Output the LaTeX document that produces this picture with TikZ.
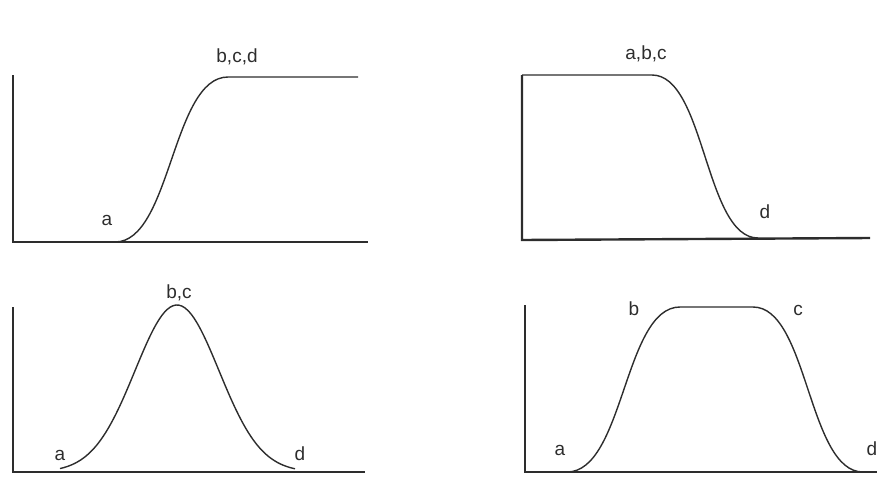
\documentclass[tikz,border=0pt]{standalone}
\usepackage{fontspec}
\setmainfont{Liberation Sans}
\usepackage{tikz}
\definecolor{InkGray}{RGB}{45, 45, 45}

\begin{document}
\begin{tikzpicture}[x=1pt, y=-1pt,
    axisline/.style={draw=InkGray, line width=2.4pt, line join=miter},
    curveline/.style={draw=InkGray, line width=1.4pt},
    ptlabel/.style={font=\fontsize{19}{21}\selectfont, text=InkGray, inner sep=0pt, anchor=base}]
                \useasboundingbox (0, 0) rectangle (889, 485);

                % Top left: rise a -> b,c,d
                \coordinate (o1) at (13, 242);
                \draw[axisline] (13, 75) -- (o1) -- (368, 242);
                \coordinate (a1) at (115, 242);
                \coordinate (b1) at (228, 77);
                \draw[curveline] (a1) .. controls (171, 242) and (172, 77) .. (b1) -- (358, 77);
                \node[ptlabel] (la1) at (107, 225) {a};
                \node[ptlabel] (lb1) at (237, 62) {b,c,d};

                % Top right: fall a,b,c -> d
                \coordinate (o2) at (522, 240);
                \coordinate (c2) at (652, 75);
                \coordinate (d2) at (758, 238);
                \draw[axisline] (522, 75) -- (o2) -- (870, 238);
                \draw[curveline] (522, 75) -- (c2) .. controls (705, 75) and (705, 238) .. (d2);
                \node[ptlabel] (la2) at (646, 59) {a,b,c};
                \node[ptlabel] (ld2) at (765, 218) {d};

                % Bottom left: bell a -> b,c -> d
                \coordinate (o3) at (13, 472);
                \draw[axisline] (13, 307) -- (o3) -- (365, 472);
                \draw[curveline] plot[domain=60:295, samples=80, smooth] (\x, {472-167*exp(-((\x-177)/42)^2/2)});
                \node[ptlabel] (la3) at (60, 460) {a};
                \node[ptlabel] (lb3) at (179, 298) {b,c};
                \node[ptlabel] (ld3) at (300, 460) {d};

                % Bottom right: plateau a -> b -- c -> d
                \coordinate (o4) at (525, 472);
                \coordinate (a4) at (567, 472);
                \coordinate (b4) at (680, 307);
                \coordinate (c4) at (753, 307);
                \coordinate (d4) at (863, 472);
                \draw[axisline] (525, 305) -- (o4) -- (877, 472);
                \draw[curveline] (a4) .. controls (624, 472) and (624, 307) .. (b4) -- (c4)
                    .. controls (808, 307) and (808, 472) .. (d4);
                \node[ptlabel] (la4) at (560, 455) {a};
                \node[ptlabel] (lb4) at (634, 315) {b};
                \node[ptlabel] (lc4) at (798, 315) {c};
                \node[ptlabel] (ld4) at (872, 455) {d};
            \end{tikzpicture}
\end{document}
